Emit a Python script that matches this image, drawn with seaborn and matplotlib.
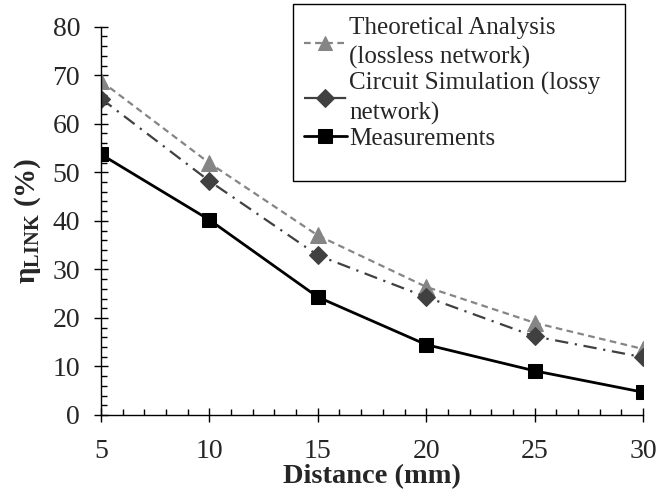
import matplotlib
matplotlib.use("Agg")
import matplotlib.pyplot as plt
import seaborn as sns
import pandas as pd
from matplotlib.ticker import MultipleLocator
from matplotlib.patches import Rectangle

distance = [5, 10, 15, 20, 25, 30]
theoretical = [68.8, 51.9, 37.0, 26.4, 19.0, 13.6]
circuit = [65.2, 48.2, 32.9, 24.3, 16.2, 11.9]
measured = [53.7, 40.2, 24.3, 14.5, 9.1, 4.7]

labels = ["Theoretical Analysis\n(lossless network)",
          "Circuit Simulation (lossy\nnetwork)",
          "Measurements"]

sns.set_style("ticks")
plt.rcParams["font.family"] = ["Liberation Serif", "DejaVu Serif"]
plt.rcParams["mathtext.fontset"] = "custom"
plt.rcParams["mathtext.rm"] = "Liberation Serif"
plt.rcParams["mathtext.bf"] = "Liberation Serif:bold"

fig = plt.figure(figsize=(6.58, 4.93), dpi=100)
ax = fig.add_axes([101 / 658, 1 - 415 / 493, (643 - 101) / 658, (415 - 26.7) / 493])

df_t = pd.DataFrame({"x": distance, "y": theoretical})
df_c = pd.DataFrame({"x": distance, "y": circuit})
df_m = pd.DataFrame({"x": distance, "y": measured})

sns.lineplot(data=df_t, x="x", y="y", ax=ax, color="#858585", lw=1.6,
             linestyle=(0, (3, 2)), marker="^", markersize=11,
             markeredgecolor="#858585", label=labels[0])
sns.lineplot(data=df_c, x="x", y="y", ax=ax, color="#404040", lw=1.6,
             linestyle=(0, (6, 3, 1, 3)), marker="D", markersize=9,
             markeredgecolor="#404040", label=labels[1])
sns.lineplot(data=df_m, x="x", y="y", ax=ax, color="black", lw=2,
             linestyle="-", marker="s", markersize=10.5,
             markeredgecolor="black", label=labels[2])

ax.set_xlim(5, 30)
ax.set_ylim(0, 80)
ax.xaxis.set_major_locator(MultipleLocator(5))
ax.xaxis.set_minor_locator(MultipleLocator(1))
ax.yaxis.set_major_locator(MultipleLocator(10))
ax.yaxis.set_minor_locator(MultipleLocator(2))
ax.tick_params(axis="both", which="major", direction="inout", length=10,
               width=1, labelsize=20, color="black")
ax.tick_params(axis="both", which="minor", direction="in", length=4.5,
               width=1, color="black")
ax.tick_params(axis="x", which="major", pad=12)
ax.tick_params(axis="y", which="major", pad=10)
for s in ["top", "right"]:
    ax.spines[s].set_visible(False)
for s in ["left", "bottom"]:
    ax.spines[s].set_color("black")
    ax.spines[s].set_linewidth(1)

ax.set_xlabel("Distance (mm)", fontsize=20.5, fontweight="bold", labelpad=0)
ax.set_ylabel("η$_{\\mathbf{LINK}}$ (%)", fontsize=21, fontweight="bold",
              labelpad=7)

leg = ax.legend(loc="upper left", bbox_to_anchor=(289 / 658, 1 - 2 / 493),
                bbox_transform=fig.transFigure, frameon=False, fontsize=18,
                handlelength=1.7, handletextpad=0.1, labelspacing=0.1,
                borderpad=0.1, markerscale=1.0)
for t in leg.get_texts():
    t.set_linespacing(1.4)
for h, ms in zip(leg.legend_handles, [10, 9, 10]):
    h.set_markersize(ms)
leg.set_zorder(6)
ax.add_patch(Rectangle((293 / 658, 1 - 181 / 493), (625 - 293) / 658,
                       (181 - 4) / 493, transform=fig.transFigure,
                       fill=True, facecolor="white", edgecolor="black",
                       lw=1, zorder=5, clip_on=False))

fig.savefig("out.png", dpi=100)
